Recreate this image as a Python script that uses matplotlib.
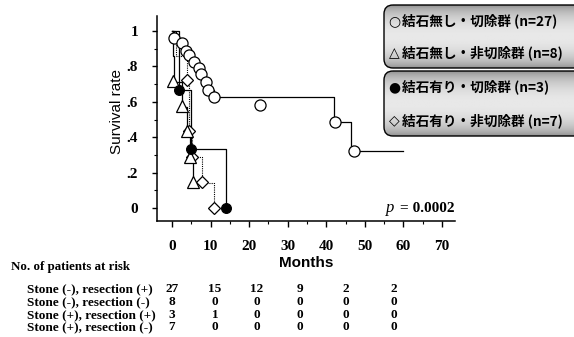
import numpy as np
import matplotlib.pyplot as plt
from matplotlib.patches import FancyBboxPatch
from matplotlib.ticker import MultipleLocator

plt.rcParams['font.family'] = ['Liberation Serif', 'DejaVu Serif']

# Kaplan-Meier steps (months, survival)
grp1_t = [0, 0.5, 2.7, 3.6, 4.4, 5.7, 7.0, 7.4, 8.7, 9.2, 10.9, 42.0, 46.5, 60]
grp1_s = [1, 0.963, 0.926, 0.889, 0.852, 0.815, 0.778, 0.741, 0.704, 0.667, 0.625, 0.488, 0.325, 0.325]
grp1_mt = [0.5, 2.7, 3.6, 4.4, 5.7, 7.0, 7.4, 8.7, 9.2, 10.9, 22.7, 42.4, 47.1]
grp1_ms = [0.963, 0.93, 0.889, 0.862, 0.826, 0.79, 0.757, 0.714, 0.667, 0.625, 0.585, 0.488, 0.325]

grp2_t = [0, 0.3, 0.5, 2.7, 3.8, 4.6, 5.5]
grp2_s = [1, 0.857, 0.714, 0.571, 0.429, 0.286, 0.143]
grp2_mt = [0.3, 2.7, 3.8, 4.6, 5.5]
grp2_ms = [0.72, 0.578, 0.435, 0.29, 0.15]

grp3_t = [0, 1.8, 5.0, 14.0]
grp3_s = [1, 0.667, 0.333, 0.0]
grp3_mt = [1.8, 5.0, 14.0]
grp3_ms = [0.667, 0.333, 0.0]

grp4_t = [0, 1.0, 4.0, 4.3, 5.2, 7.9, 10.9]
grp4_s = [1, 0.857, 0.714, 0.429, 0.286, 0.143, 0.0]
grp4_mt = [4.0, 4.3, 5.2, 7.9, 10.9]
grp4_ms = [0.725, 0.435, 0.29, 0.15, 0.0]

legend_labels = ['結石無し・切除群 (n=27)', '結石無し・非切除群 (n=8)',
                 '結石有り・切除群 (n=3)', '結石有り・非切除群 (n=7)']
legend_syms = ['○', '△', '●', '◇']

risk_rows = ['Stone (-), resection (+)', 'Stone (-), resection (-)',
             'Stone (+), resection (+)', 'Stone (+), resection (-)']
risk_vals = [[27, 15, 12, 9, 2, 2],
             [8, 0, 0, 0, 0, 0],
             [3, 1, 0, 0, 0, 0],
             [7, 0, 0, 0, 0, 0]]

W, H = 574, 337
fig = plt.figure(figsize=(W / 100, H / 100), dpi=100)
ax = fig.add_axes([157 / W, 1 - 221 / H, (455 - 157) / W, (221 - 16) / H])

ax.step(grp4_t, grp4_s, where='post', color='k', lw=0.8, ls=(0, (1, 1)))
ax.step(grp3_t, grp3_s, where='post', color='k', lw=0.9)
ax.step(grp2_t, grp2_s, where='post', color='k', lw=0.9)
ax.step(grp1_t, grp1_s, where='post', color='k', lw=0.9)

mk = dict(ls='none', mec='k', mew=0.9, clip_on=False)
ax.plot(grp4_mt, grp4_ms, 'D', ms=6.5, mfc='white', **mk)
ax.plot(grp2_mt, grp2_ms, '^', ms=8, mfc='white', **mk)
ax.plot(grp3_mt, grp3_ms, 'o', ms=7, mfc='black', **mk)
ax.plot(grp1_mt, grp1_ms, 'o', ms=8, mfc='white', **mk)

ax.set_xlim(-3.9, 73.4)
ax.set_ylim(-0.073, 1.085)
ax.set_xticks(range(0, 71, 10))
ax.set_yticks([0, 0.2, 0.4, 0.6, 0.8, 1.0])
ax.set_yticklabels(['0', '.2', '.4', '.6', '.8', '1'])
ax.xaxis.set_minor_locator(MultipleLocator(5))
ax.yaxis.set_minor_locator(MultipleLocator(0.1))
ax.tick_params(axis='x', which='major', length=4.5, width=1, pad=9, labelsize=11)
ax.tick_params(axis='x', which='minor', length=2.5, width=0.8)
ax.tick_params(axis='y', which='major', length=3.5, width=1, pad=10, labelsize=11)
ax.tick_params(axis='y', which='minor', length=2, width=0.8)
for lab in ax.get_xticklabels() + ax.get_yticklabels():
    lab.set_fontweight('bold')
for side in ['top', 'right']:
    ax.spines[side].set_visible(False)
for side in ['left', 'bottom']:
    ax.spines[side].set_linewidth(1.1)

# overlay in pixel coordinates for the labels, legend and risk table
ov = fig.add_axes([0, 0, 1, 1], zorder=5)
ov.set_xlim(0, W)
ov.set_ylim(H, 0)
ov.axis('off')

ov.text(386, 208, 'p', fontsize=12, style='italic', ha='left', va='center')
ov.text(455, 208, '= 0.0002', fontsize=11, fontweight='bold', ha='right', va='center')

ov.text(117, 112, 'Survival rate', rotation=90, ha='center', va='center',
        fontsize=11, family=['Liberation Sans', 'DejaVu Sans'])
ov.text(306, 263, 'Months', ha='center', va='center', fontsize=11,
        fontweight='bold', family=['Liberation Sans', 'DejaVu Sans'])

prof = np.linspace(0, 1, 64)
grad = (0.55 + 0.36 * np.sin(np.pi * prof) ** 0.6).reshape(-1, 1)
for top, bot, labs, syms in [(5, 68, legend_labels[:2], legend_syms[:2]),
                             (71, 136, legend_labels[2:], legend_syms[2:])]:
    box = FancyBboxPatch((384, top), 200, bot - top,
                         boxstyle='round,pad=0,rounding_size=9',
                         fc='none', ec='k', lw=1.0, zorder=3)
    ov.add_patch(box)
    im = ov.imshow(grad, cmap='gray', vmin=0, vmax=1, aspect='auto',
                   extent=[384, 584, bot, top], zorder=2)
    im.set_clip_path(box)
    ycs = [top + (bot - top) * 0.25, top + (bot - top) * 0.76]
    for yc, lab, sym in zip(ycs, labs, syms):
        ov.text(394, yc, sym, ha='center', va='center', fontsize=10,
                family=['DejaVu Sans'], zorder=4)
        ov.text(402, yc, lab, ha='left', va='center', fontsize=9.8,
                fontweight='bold', zorder=4,
                family=['Noto Sans CJK JP', 'DejaVu Sans'])

ov.text(11, 267, 'No. of patients at risk', ha='left', va='center',
        fontsize=9.3, fontweight='bold')
col_x = [172, 215, 257, 300, 346, 394]
row_y = [289, 302, 315, 327]
for ry, name, vals in zip(row_y, risk_rows, risk_vals):
    ov.text(27, ry, name, ha='left', va='center', fontsize=9.5, fontweight='bold')
    for cx, v in zip(col_x, vals):
        ov.text(cx, ry, str(v), ha='center', va='center', fontsize=9.5,
                fontweight='bold')

fig.savefig('out.png', dpi=100)
